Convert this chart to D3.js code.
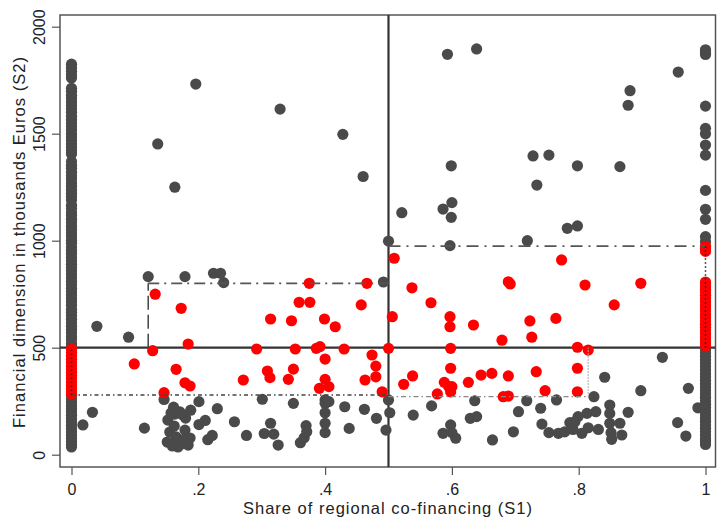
<!DOCTYPE html>
<html>
<head>
<meta charset="utf-8">
<script src="https://cdn.jsdelivr.net/npm/d3@7"></script>
<style>
  html, body { margin: 0; padding: 0; background: #fff; }
  svg { display: block; }
  text { font-family: "Liberation Sans", Arial, Helvetica, sans-serif; fill: #222; }
</style>
</head>
<body>
<svg id="chart" width="717" height="520"></svg>
<script>
// ---- data -------------------------------------------------------------
const xTicks = [0, 0.2, 0.4, 0.6, 0.8, 1];
const xTickLabels = ["0", ".2", ".4", ".6", ".8", "1"];
const yTicks = [0, 500, 1000, 1500, 2000];
const yTickLabels = ["0", "500", "1000", "1500", "2000"];

// projects fully financed nationally (S1 = 0)
const grayAtZero = [36, 48, 62, 76, 92, 106, 122, 138, 154, 168, 184, 200, 214, 230, 246, 262, 278,
  505, 520, 538, 552, 570, 585, 600, 618, 633, 650, 666, 680, 698, 715, 730, 746, 762, 778, 795,
  810, 826, 842, 860, 875, 890, 906, 922, 940, 955, 970, 988, 1002, 1020, 1036, 1052, 1068, 1085,
  1100, 1118, 1132, 1150, 1166, 1190, 1205, 1222, 1238, 1255, 1270, 1288, 1304, 1320, 1338, 1352,
  1370, 1405, 1420, 1436, 1452, 1468, 1485, 1500, 1518, 1534, 1550, 1566, 1582, 1600, 1615, 1632,
  1648, 1664, 1680, 1698, 1712, 1760, 1776, 1792, 1808, 1825];
const redAtZero = [284, 298, 312, 326, 340, 355, 370, 385, 400, 415, 430, 446, 462, 478, 494];

// projects fully financed regionally (S1 = 1)
const grayAtOne = [48, 62, 76, 92, 108, 124, 140, 156, 172, 188, 204, 220, 236, 252, 268, 284, 300,
  316, 332, 348, 364, 380, 396, 412, 428, 444, 460, 476, 490,
  995, 1019, 1100, 1147, 1235, 1400, 1447, 1500, 1525, 1629, 1870, 1880, 1892];
const redAtOne = [508, 522, 536, 550, 565, 580, 595, 610, 625, 640, 655, 672, 686, 700, 715, 730,
  745, 760, 772, 786, 800, 807, 950, 962, 974];

// mixed co-financing: [S1, S2]
const grayMixed = [
  [0.136, 1452], [0.163, 1250], [0.196, 1732], [0.329, 1615], [0.428, 1497], [0.460, 1300], [0.5, 998],
  [0.593, 1871], [0.639, 1896], [0.599, 1350], [0.600, 1178], [0.586, 1148], [0.599, 1109], [0.521, 1131],
  [0.597, 977], [0.728, 1396], [0.753, 1400], [0.734, 1260], [0.798, 1350], [0.865, 1346], [0.881, 1701],
  [0.878, 1633], [0.957, 1788], [0.782, 1058], [0.798, 1069], [0.719, 1000],
  [0.040, 600], [0.090, 549], [0.121, 832], [0.179, 832], [0.224, 848], [0.235, 848], [0.240, 804], [0.492, 807],
  [0.018, 139], [0.033, 198], [0.115, 124], [0.146, 258], [0.161, 222], [0.175, 186], [0.188, 208],
  [0.201, 248], [0.201, 141], [0.211, 160], [0.215, 70], [0.222, 90], [0.230, 215], [0.257, 154],
  [0.276, 90], [0.301, 259], [0.304, 99], [0.314, 147], [0.319, 96], [0.326, 45],
  [0.152, 162], [0.155, 106], [0.151, 59], [0.162, 134], [0.165, 83], [0.173, 50], [0.179, 115],
  [0.180, 171], [0.171, 200], [0.163, 190], [0.159, 41], [0.176, 69], [0.168, 36], [0.184, 45],
  [0.187, 78], [0.157, 195],
  [0.35, 240], [0.361, 56], [0.367, 79], [0.37, 136], [0.371, 107], [0.4, 256], [0.4, 240], [0.4, 196],
  [0.4, 147], [0.4, 103], [0.406, 248], [0.431, 224], [0.438, 123], [0.462, 212], [0.481, 170],
  [0.496, 115], [0.5, 256], [0.502, 196], [0.539, 185], [0.568, 228], [0.586, 100], [0.598, 139],
  [0.6, 103], [0.606, 77], [0.629, 170], [0.639, 178], [0.636, 252],
  [0.664, 69], [0.697, 107], [0.705, 201], [0.718, 252], [0.74, 217], [0.742, 143], [0.753, 103],
  [0.765, 256], [0.768, 100], [0.778, 107], [0.786, 150], [0.791, 118], [0.794, 154], [0.799, 178],
  [0.805, 100], [0.813, 193], [0.815, 126], [0.824, 271], [0.827, 201], [0.831, 118], [0.841, 362],
  [0.849, 232], [0.849, 193], [0.849, 147], [0.851, 103], [0.852, 72], [0.865, 147], [0.868, 92],
  [0.878, 198], [0.898, 299], [0.932, 455], [0.956, 150], [0.969, 87], [0.973, 310], [0.988, 219]
];
const redMixed = [
  [0.099, 424], [0.128, 486], [0.132, 750], [0.146, 290], [0.165, 399], [0.173, 684], [0.179, 336],
  [0.187, 321], [0.184, 517],
  [0.271, 349], [0.292, 494], [0.309, 391], [0.313, 360], [0.314, 634], [0.342, 352], [0.347, 626],
  [0.35, 400], [0.353, 494], [0.359, 712], [0.375, 801], [0.376, 712], [0.386, 497], [0.392, 505],
  [0.391, 310], [0.399, 634], [0.4, 447], [0.4, 352], [0.406, 318], [0.416, 598], [0.43, 494],
  [0.457, 700], [0.463, 349], [0.466, 801], [0.474, 466], [0.48, 414], [0.48, 364], [0.49, 294], [0.5, 497],
  [0.506, 645], [0.509, 918], [0.537, 780], [0.538, 368], [0.524, 329], [0.567, 710], [0.577, 284],
  [0.588, 338], [0.595, 318], [0.597, 645], [0.597, 598], [0.598, 497], [0.598, 404], [0.6, 318],
  [0.598, 294], [0.626, 338], [0.634, 606], [0.646, 372], [0.663, 380], [0.679, 535], [0.681, 271],
  [0.689, 274], [0.689, 368], [0.689, 808], [0.692, 798], [0.723, 625], [0.726, 549], [0.733, 388],
  [0.747, 299], [0.764, 637], [0.773, 910], [0.798, 502], [0.798, 404], [0.798, 294], [0.81, 793],
  [0.815, 489], [0.856, 700], [0.898, 801]
];

// reference thresholds and group boundaries
const splitS1 = 0.5, splitS2 = 500;
const lowLeftS2 = 279, highLeftS2 = 801, highLeftS1 = 0.121;
const highRightS2 = 975, lowRightS2 = 271, lowRightS1 = 0.815;

// ---- layout -----------------------------------------------------------
const frame = { left: 60, right: 715.5, top: 15, bottom: 467 };
const x = d3.scaleLinear().domain([0, 1]).range([71.5, 705.5]);
const y = d3.scaleLinear().domain([0, 2000]).range([454.7, 26.7]);
const R = 5.6;
const GRAY = "#4a4a4a", RED = "#ff0000";

const svg = d3.select("#chart");

// frame
svg.append("rect")
  .attr("x", frame.left).attr("y", frame.top)
  .attr("width", frame.right - frame.left).attr("height", frame.bottom - frame.top)
  .attr("fill", "none").attr("stroke", "#555").attr("stroke-width", 1.5);

// axes
const xAxis = svg.append("g").attr("transform", `translate(0,${frame.bottom})`)
  .call(d3.axisBottom(x).tickValues(xTicks).tickSize(8).tickPadding(8)
    .tickFormat((d, i) => xTickLabels[i]));
const yAxis = svg.append("g").attr("transform", `translate(${frame.left},0)`)
  .call(d3.axisLeft(y).tickValues(yTicks).tickSize(8).tickPadding(7)
    .tickFormat((d, i) => yTickLabels[i]));
[xAxis, yAxis].forEach(g => {
  g.select(".domain").remove();
  g.selectAll(".tick line").attr("stroke", "#555").attr("stroke-width", 1.2);
  g.selectAll(".tick text").attr("font-size", 16).attr("fill", "#222")
    .style("font-family", '"Liberation Sans", Arial, sans-serif');
});
xAxis.selectAll(".tick text").attr("dy", null).attr("y", 28);
yAxis.selectAll(".tick text")
  .attr("x", null).attr("dy", null)
  .attr("text-anchor", "middle")
  .attr("transform", "translate(-15,0) rotate(-90)");

// axis titles (spread slightly wider than the default metrics)
svg.append("text")
  .attr("x", 387.5).attr("y", 514)
  .attr("text-anchor", "middle").attr("font-size", 16.5)
  .attr("textLength", 289).attr("lengthAdjust", "spacing")
  .text("Share of regional co-financing (S1)");
svg.append("text")
  .attr("transform", `translate(24.5,${242.5}) rotate(-90)`)
  .attr("text-anchor", "middle").attr("font-size", 16.5)
  .attr("textLength", 371).attr("lengthAdjust", "spacing")
  .text("Financial dimension in thousands Euros (S2)");

// threshold cross
const plot = svg.append("g");
plot.append("line")
  .attr("x1", frame.left).attr("x2", frame.right)
  .attr("y1", y(splitS2)).attr("y2", y(splitS2))
  .attr("stroke", "#333").attr("stroke-width", 2.2);
plot.append("line")
  .attr("x1", x(splitS1)).attr("x2", x(splitS1))
  .attr("y1", frame.top).attr("y2", frame.bottom)
  .attr("stroke", "#333").attr("stroke-width", 2.2);

// points
const grayPts = grayMixed
  .concat(grayAtZero.map(v => [0, v]))
  .concat(grayAtOne.map(v => [1, v]));
const redPts = redMixed
  .concat(redAtZero.map(v => [0, v]))
  .concat(redAtOne.map(v => [1, v]));

plot.append("g").selectAll("circle").data(grayPts).join("circle")
  .attr("cx", d => x(d[0])).attr("cy", d => y(d[1])).attr("r", R)
  .attr("fill", GRAY);
plot.append("g").selectAll("circle").data(redPts).join("circle")
  .attr("cx", d => x(d[0])).attr("cy", d => y(d[1])).attr("r", R)
  .attr("fill", RED);

// group boundary lines
function seg(x1, y1, x2, y2, color, width, dash) {
  plot.append("line")
    .attr("x1", x(x1)).attr("y1", y(y1)).attr("x2", x(x2)).attr("y2", y(y2))
    .attr("stroke", color).attr("stroke-width", width)
    .attr("stroke-dasharray", dash);
}
// lower-left group
seg(0, lowLeftS2, splitS1, lowLeftS2, "#444", 1.5, "4,3,1.5,3");
seg(0, lowLeftS2, 0, splitS2, "#222", 1.5, "1.5,2.5");
// upper-left group
seg(highLeftS1, splitS2, highLeftS1, highLeftS2, "#444", 1.5, "14,5");
seg(highLeftS1, highLeftS2, splitS1, highLeftS2, "#555", 1.8, "11,5,2,5");
// upper-right group
seg(splitS1, highRightS2, 1, highRightS2, "#555", 1.8, "12,6,2,6");
seg(1, splitS2, 1, highRightS2, "#222", 1.5, "1.5,2.5");
// lower-right group
seg(splitS1, lowRightS2, lowRightS1, lowRightS2, "#888", 1.3, "5,3,1.5,3");
seg(lowRightS1, lowRightS2, lowRightS1, splitS2, "#aaa", 1.3, "1.5,1.5");
</script>
</body>
</html>
